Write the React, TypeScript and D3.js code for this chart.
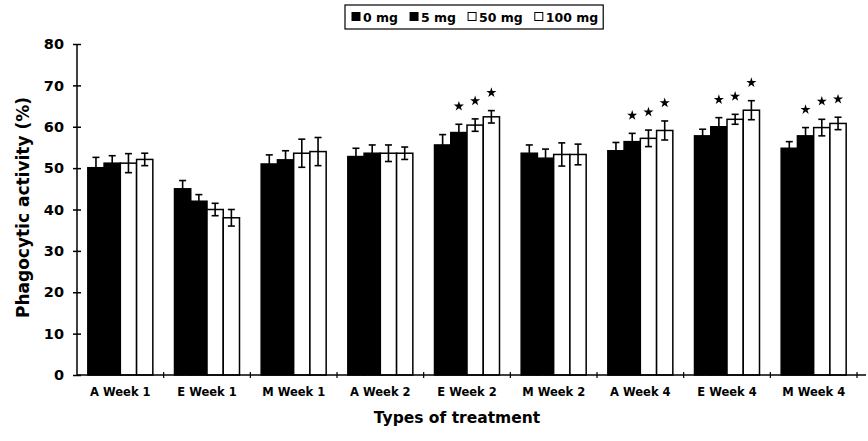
import React from 'react';
import * as d3 from 'd3';

const categories = ["A Week 1", "E Week 1", "M Week 1", "A Week 2", "E Week 2", "M Week 2", "A Week 4", "E Week 4", "M Week 4"];
const doses = ["0 mg", "5 mg", "50 mg", "100 mg"];
const doseFill = ["#000", "#000", "#fff", "#fff"];

// mean phagocytic activity (%) per dose, one entry per category
const mg0 = [50.1, 45.0, 51.0, 52.8, 55.6, 53.6, 54.2, 57.8, 54.8];
const mg5 = [51.2, 42.0, 52.0, 53.6, 58.6, 52.4, 56.4, 60.0, 57.8];
const mg50 = [51.2, 40.0, 53.6, 53.6, 60.4, 53.3, 57.2, 61.8, 59.8];
const mg100 = [52.1, 38.0, 54.0, 53.6, 62.4, 53.3, 59.1, 64.0, 60.8];

// standard errors
const err0 = [2.5, 2.0, 2.2, 2.0, 2.5, 2.0, 2.0, 1.6, 1.6];
const err5 = [1.8, 1.6, 2.2, 2.0, 2.0, 2.2, 2.0, 2.2, 2.0];
const err50 = [2.3, 1.5, 3.4, 2.0, 1.5, 2.8, 2.0, 1.2, 2.0];
const err100 = [1.5, 2.0, 3.4, 1.5, 1.5, 2.5, 2.3, 2.3, 1.5];

// significant difference marks (*)
const sig0 = [0, 0, 0, 0, 0, 0, 0, 0, 0];
const sig5 = [0, 0, 0, 0, 1, 0, 1, 1, 1];
const sig50 = [0, 0, 0, 0, 1, 0, 1, 1, 1];
const sig100 = [0, 0, 0, 0, 1, 0, 1, 1, 1];

const yTicks = [0, 10, 20, 30, 40, 50, 60, 70, 80];

const values = [mg0, mg5, mg50, mg100];
const errors = [err0, err5, err50, err100];
const sigs = [sig0, sig5, sig50, sig100];

const App = () => {
    const svgRef = React.useRef(null);

    const W = 868, H = 441;
    const font = "'DejaVu Sans', 'Liberation Sans', Arial, sans-serif";

    React.useEffect(() => {
        document.body.style.margin = "0";

        const svg = d3.select(svgRef.current);
        svg.selectAll("*").remove();

        const y = d3.scaleLinear().domain([0, 80]).range([375, 44]);

        const x0 = d3.scaleBand()
            .domain(categories)
            .range([77, 857])
            .padding(0);

        const groupW = 65;
        const x1 = d3.scaleBand()
            .domain(doses)
            .range([(x0.bandwidth() - groupW) / 2, (x0.bandwidth() + groupW) / 2])
            .padding(0);

        const rows = [];
        categories.forEach((c, ci) => {
            doses.forEach((d, di) => {
                rows.push({ cat: c, dose: d, di, v: values[di][ci], e: errors[di][ci], s: sigs[di][ci] });
            });
        });

        const g = svg.append("g");

        // bars
        g.selectAll("rect.bar")
            .data(rows)
            .enter()
            .append("rect")
            .attr("class", "bar")
            .attr("x", d => x0(d.cat) + x1(d.dose))
            .attr("y", d => y(d.v))
            .attr("width", x1.bandwidth())
            .attr("height", d => y(0) - y(d.v))
            .attr("fill", d => doseFill[d.di])
            .attr("stroke", "#000")
            .attr("stroke-width", 1.5);

        // error bars
        const cx = d => x0(d.cat) + x1(d.dose) + x1.bandwidth() / 2;
        const eb = g.selectAll("g.err")
            .data(rows)
            .enter()
            .append("g")
            .attr("class", "err")
            .attr("stroke", "#000")
            .attr("stroke-width", 1.6);
        eb.append("line")
            .attr("x1", cx).attr("x2", cx)
            .attr("y1", d => y(d.v + d.e)).attr("y2", d => y(d.v - d.e));
        eb.append("line")
            .attr("x1", d => cx(d) - 3.5).attr("x2", d => cx(d) + 3.5)
            .attr("y1", d => y(d.v + d.e)).attr("y2", d => y(d.v + d.e));
        eb.append("line")
            .attr("x1", d => cx(d) - 3.5).attr("x2", d => cx(d) + 3.5)
            .attr("y1", d => y(d.v - d.e)).attr("y2", d => y(d.v - d.e));

        // significance stars
        g.selectAll("path.star")
            .data(rows.filter(d => d.s))
            .enter()
            .append("path")
            .attr("class", "star")
            .attr("d", d3.symbol().type(d3.symbolStar).size(32))
            .attr("transform", d => `translate(${cx(d)},${y(d.v + d.e) - 18})`)
            .attr("fill", "#000");

        // Y axis
        const yAxis = svg.append("g")
            .attr("transform", "translate(77,0)")
            .call(d3.axisLeft(y).tickValues(yTicks).tickSize(4).tickPadding(9));
        yAxis.select(".domain").attr("stroke", "#000").attr("stroke-width", 1.5).attr("d", `M0,${y(80)}V${y(0)}`);
        yAxis.selectAll(".tick line").attr("x1", 4).attr("stroke-width", 1.5);
        yAxis.selectAll(".tick text")
            .attr("font-family", font)
            .attr("font-weight", "bold")
            .attr("font-size", 14.5)
            .attr("fill", "#000");

        // X axis
        const xAxis = svg.append("g")
            .attr("transform", `translate(0,${y(0)})`)
            .call(d3.axisBottom(x0).tickSize(0).tickPadding(13));
        xAxis.select(".domain").attr("stroke-width", 1.5).attr("d", `M77,0H866`);
        xAxis.selectAll(".tick text")
            .attr("font-family", font)
            .attr("font-weight", "bold")
            .attr("font-size", 11.5)
            .attr("fill", "#000");

        xAxis.selectAll("line.sep")
            .data(categories)
            .enter()
            .append("line")
            .attr("class", "sep")
            .attr("x1", d => x0(d) + x0.bandwidth())
            .attr("x2", d => x0(d) + x0.bandwidth())
            .attr("y1", -3)
            .attr("y2", 3)
            .attr("stroke", "#000")
            .attr("stroke-width", 1.2);

        // axis titles
        svg.append("text")
            .attr("transform", `translate(23,${(y(80) + y(0)) / 2 - 2}) rotate(-90)`)
            .attr("text-anchor", "middle")
            .attr("dy", "0.35em")
            .attr("font-family", font)
            .attr("font-weight", "bold")
            .attr("font-size", 17)
            .text("Phagocytic activity (%)");

        svg.append("text")
            .attr("x", (77 + 857) / 2 - 10)
            .attr("y", 423)
            .attr("text-anchor", "middle")
            .attr("font-family", font)
            .attr("font-weight", "bold")
            .attr("font-size", 15.5)
            .text("Types of treatment");

        // legend
        const lg = svg.append("g");
        const box = lg.append("rect")
            .attr("fill", "#fff")
            .attr("stroke", "#000")
            .attr("stroke-width", 1.2);
        let cur = 352;
        doses.forEach((d, i) => {
            lg.append("rect")
                .attr("x", cur)
                .attr("y", 12.5)
                .attr("width", 8)
                .attr("height", 8)
                .attr("fill", doseFill[i])
                .attr("stroke", "#000")
                .attr("stroke-width", 1);
            const t = lg.append("text")
                .attr("x", cur + 11)
                .attr("y", 21.5)
                .attr("font-family", font)
                .attr("font-weight", "bold")
                .attr("font-size", 12.5)
                .text(d);
            cur += 11 + t.node().getComputedTextLength() + 12;
        });
        box.attr("x", 345).attr("y", 5).attr("width", cur - 12 + 5 - 345).attr("height", 24);
    }, []);

    return <svg ref={svgRef} width={W} height={H} style={{ display: "block", background: "#fff" }} />;
};

export default App;
